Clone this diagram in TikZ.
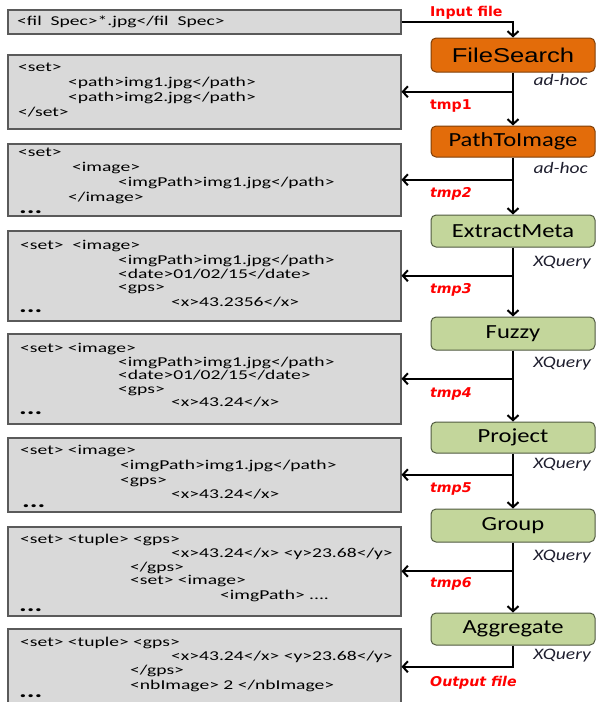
\documentclass[tikz,border=0pt]{standalone}
\usepackage{fontspec}
\setmainfont{Carlito}
\newfontfamily\xmlfont[FakeStretch=1.45]{Carlito}
\newfontfamily\procfont[FakeStretch=1.23]{Carlito}
\newfontfamily\fsfont[FakeStretch=1.28]{Liberation Sans}
\newfontfamily\tagfont[FakeStretch=1.22]{Carlito}
\newfontfamily\redfont[FakeStretch=1.05]{DejaVu Sans}
\usetikzlibrary{arrows.meta}
\definecolor{boxfill}{HTML}{D9D9D9}
\definecolor{boxborder}{HTML}{5A5A5A}
\definecolor{orfill}{HTML}{E36C0A}
\definecolor{orborder}{HTML}{7F3F08}
\definecolor{grfill}{HTML}{C3D69B}
\definecolor{grborder}{HTML}{505A40}
\definecolor{redlab}{HTML}{FF0000}
\definecolor{tagcol}{HTML}{1F1F2F}
\begin{document}
\begin{tikzpicture}[x=1pt,y=-1pt,
  xbox/.style={draw=boxborder, fill=boxfill, line width=1.5pt, rectangle, anchor=north west, minimum width=393pt, inner sep=0pt},
  xt/.style={anchor=base west, inner sep=0pt, font=\xmlfont\fontsize{13.5}{15}\selectfont},
  xdots/.style={anchor=base west, inner sep=0pt, font=\xmlfont\bfseries\fontsize{20}{20}\selectfont},
  proc/.style={rectangle, rounded corners=5pt, minimum width=164pt, minimum height=32pt, inner sep=0pt, line width=1pt, text=black},
  orng/.style={proc, fill=orfill, draw=orborder, font=\procfont\fontsize{20}{24}\selectfont},
  grn/.style={proc, fill=grfill, draw=grborder, font=\procfont\fontsize{20}{24}\selectfont},
  arr/.style={line width=2pt, -{Straight Barb[length=5pt,width=11pt]}},
  tag/.style={anchor=base east, inner sep=0pt, text=tagcol, font=\tagfont\itshape\fontsize{16}{18}\selectfont},
  redl/.style={anchor=base west, inner sep=0pt, text=redlab, font=\redfont\bfseries\fontsize{13.5}{15}\selectfont},
  redi/.style={redl, font=\redfont\bfseries\itshape\fontsize{13.5}{15}\selectfont}
]
\useasboundingbox (0,0) rectangle (596,702);

% ---------- left XML boxes ----------
\node[xbox, minimum height=24pt] (b0) at (7,9) {};
\node[xbox, minimum height=74pt] (b1) at (7,54) {};
\node[xbox, minimum height=72pt] (b2) at (7,143) {};
\node[xbox, minimum height=90pt] (b3) at (7,230) {};
\node[xbox, minimum height=90pt] (b4) at (7,333) {};
\node[xbox, minimum height=74pt] (b5) at (7,437) {};
\node[xbox, minimum height=89pt] (b6) at (7,526) {};
\node[xbox, minimum height=76pt] (b7) at (7,628) {};

% box 0
\node[xt] (t00) at (17,25.5) {<fil~~Spec>*.jpg</fil~~Spec>};
% box 1
\node[xt] (t10) at (18,71) {<set>};
\node[xt] (t11) at (68,86) {<path>img1.jpg</path>};
\node[xt] (t12) at (68,101) {<path>img2.jpg</path>};
\node[xt] (t13) at (18,116) {</set>};
% box 2
\node[xt] (t20) at (18,156) {<set>};
\node[xt] (t21) at (72,171) {<image>};
\node[xt] (t22) at (118,186) {<imgPath>img1.jpg</path>};
\node[xt] (t23) at (68,201) {</image>};
\node[xdots] (d2) at (19,213) {...};
% box 3
\node[xt] (t30) at (20,249.5) {<set>~~<image>};
\node[xt] (t31) at (118,264.5) {<imgPath>img1.jpg</path>};
\node[xt] (t32) at (118,278) {<date>01/02/15</date>};
\node[xt] (t33) at (118,291) {<gps>};
\node[xt] (t34) at (171,306) {<x>43.2356</x>};
\node[xdots] (d3) at (19,312) {...};
% box 4
\node[xt] (t40) at (20,352.5) {<set> <image>};
\node[xt] (t41) at (118,366.5) {<imgPath>img1.jpg</path>};
\node[xt] (t42) at (118,379) {<date>01/02/15</date>};
\node[xt] (t43) at (118,393) {<gps>};
\node[xt] (t44) at (171,406) {<x>43.24</x>};
\node[xdots] (d4) at (19,414) {...};
% box 5
\node[xt] (t50) at (20,454.5) {<set> <image>};
\node[xt] (t51) at (120,469.5) {<imgPath>img1.jpg</path>};
\node[xt] (t52) at (120,484.5) {<gps>};
\node[xt] (t53) at (171,498.5) {<x>43.24</x>};
\node[xdots] (d5) at (22,507) {...};
% box 6
\node[xt] (t60) at (20,543) {<set> <tuple> <gps>};
\node[xt] (t61) at (171,557) {<x>43.24</x> <y>23.68</y>};
\node[xt] (t62) at (130,571) {</gps>};
\node[xt] (t63) at (130,584.5) {<set> <image>};
\node[xt] (t64) at (220,599.5) {<imgPath> ....};
\node[xdots] (d6) at (19,611) {...};
% box 7
\node[xt] (t70) at (20,646) {<set> <tuple> <gps>};
\node[xt] (t71) at (171,660.5) {<x>43.24</x> <y>23.68</y>};
\node[xt] (t72) at (130,674.5) {</gps>};
\node[xt] (t73) at (130,689.5) {<nbImage> 2 </nbImage>};
\node[xdots] (d7) at (19,697) {...};

% ---------- process boxes ----------
\node[orng, minimum height=34pt, font=\fsfont\fontsize{20}{24}\selectfont] (fs) at (513,55) {FileSearch};
\node[orng, minimum height=31pt] (pti) at (513,141.5) {PathToImage};
\node[grn] (em) at (513,231) {ExtractMeta};
\node[grn, minimum height=33pt] (fz) at (513,333.5) {Fuzzy};
\node[grn, minimum height=31pt] (pj) at (513,437.5) {Project};
\node[grn, minimum height=33pt] (gr) at (513,525.5) {Group};
\node[grn] (ag) at (513,629) {Aggregate};

% ---------- connectors ----------
\draw[arr] (b0.east) -| (fs.north);
\draw[arr] (fs.south) -- (pti.north);
\draw[arr] (fs.south |- b1.east) -- (b1.east);
\draw[arr] (pti.south) -- (em.north);
\draw[arr] (pti.south |- b2.east) -- (b2.east);
\draw[arr] (em.south) -- (fz.north);
\draw[arr] (em.south |- b3.east) -- (b3.east);
\draw[arr] (fz.south) -- (pj.north);
\draw[arr] (fz.south |- b4.east) -- (b4.east);
\draw[arr] (pj.south) -- (gr.north);
\draw[arr] (pj.south |- b5.east) -- (b5.east);
\draw[arr] (gr.south) -- (ag.north);
\draw[arr] (gr.south |- b6.east) -- (b6.east);
\draw[arr] (ag.south) |- (b7.east);

% ---------- labels ----------
\node[redl] (lin) at (430,16.5) {Input file};
\node[redl] (l1) at (430,109) {tmp1};
\node[redi] (l2) at (430,197) {tmp2};
\node[redi] (l3) at (430,293) {tmp3};
\node[redi] (l4) at (430,397) {tmp4};
\node[redi] (l5) at (430,492) {tmp5};
\node[redi] (l6) at (430,587) {tmp6};
\node[redi] (lout) at (430,686) {Output file};

\node[tag] (a1) at (588,85) {ad-hoc};
\node[tag] (a2) at (588,173) {ad-hoc};
\node[tag] (x1) at (591,266) {XQuery};
\node[tag] (x2) at (591,367) {XQuery};
\node[tag] (x3) at (591,468) {XQuery};
\node[tag] (x4) at (591,560) {XQuery};
\node[tag] (x5) at (591,659) {XQuery};
\end{tikzpicture}
\end{document}
